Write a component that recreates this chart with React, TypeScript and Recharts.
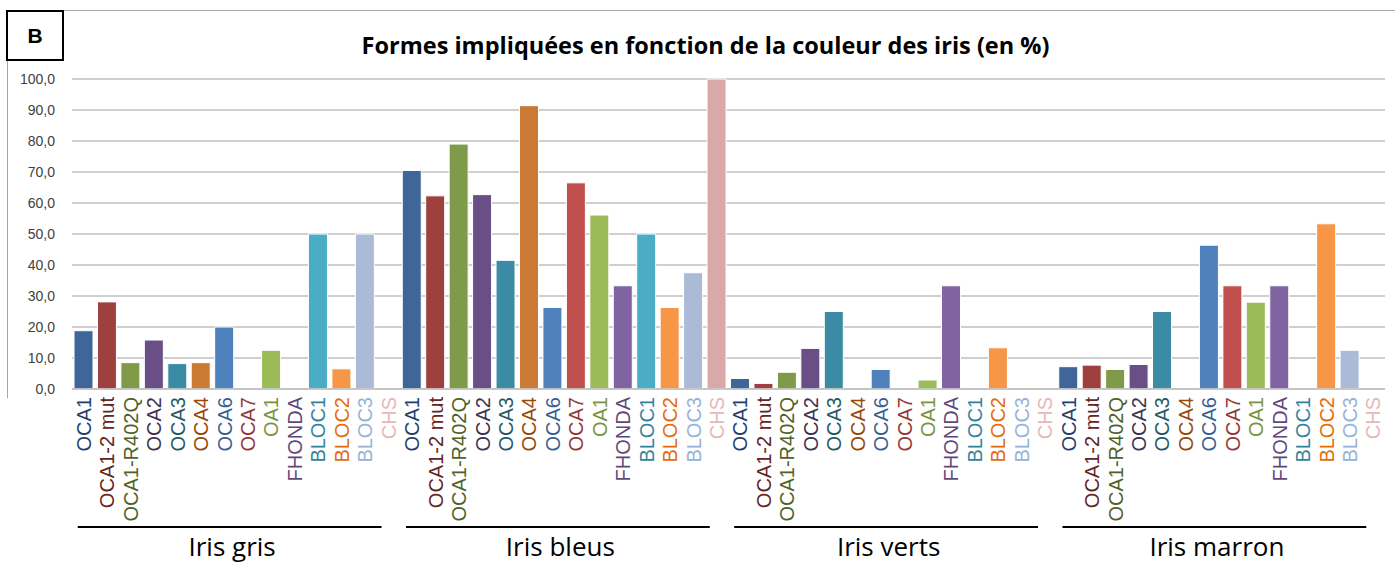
import { BarChart, Bar, XAxis, YAxis, CartesianGrid, Cell } from 'recharts';

// Forms (same order in every iris group)
const forms = [
  'OCA1', 'OCA1-2 mut', 'OCA1-R402Q', 'OCA2', 'OCA3', 'OCA4', 'OCA6',
  'OCA7', 'OA1', 'FHONDA', 'BLOC1', 'BLOC2', 'BLOC3', 'CHS',
];
const groups = ['Iris gris', 'Iris bleus', 'Iris verts', 'Iris marron'];

const grisValues = [18.8, 28.1, 8.5, 15.8, 8.2, 8.5, 20.0, 0, 12.5, 0, 50.0, 6.5, 50.0, 0];
const bleusValues = [70.5, 62.3, 79.0, 62.7, 41.5, 91.4, 26.3, 66.5, 56.1, 33.3, 50.0, 26.3, 37.5, 100.0];
const vertsValues = [3.4, 1.8, 5.4, 13.1, 25.0, 0, 6.3, 0, 2.9, 33.3, 0, 13.3, 0, 0];
const marronValues = [7.2, 7.7, 6.3, 7.9, 25.0, 0, 46.4, 33.3, 28.0, 33.3, 0, 53.3, 12.5, 0];

const barColors = [
  '#3E6698', '#9E413E', '#7F9A48', '#6A4F86', '#3A8BA3', '#CB7A35', '#4F81BD',
  '#C0504D', '#9BBB59', '#8064A2', '#4BACC6', '#F79646', '#AABAD7', '#D9A9A9',
];
const labelColors = [
  '#1F3F6E', '#632523', '#4F6228', '#403152', '#215967', '#984807', '#366092',
  '#953735', '#77933C', '#5F497A', '#31849B', '#E46C0A', '#95B3D7', '#E6B9B8',
];

const yTicks = [0, 10, 20, 30, 40, 50, 60, 70, 80, 90, 100];

const allValues = [grisValues, bleusValues, vertsValues, marronValues];

const data = groups.flatMap((g, gi) =>
  forms.map((f, fi) => ({
    id: `${gi}-${fi}`,
    group: g,
    form: f,
    formIndex: fi,
    value: allValues[gi][fi],
  }))
);

const WIDTH = 1395;
const HEIGHT = 566;
const X_AXIS_H = 177;
const MARGIN = { top: 79, right: 10, bottom: 0, left: 12 };
const Y_AXIS_W = 60;
const slot = (WIDTH - MARGIN.left - Y_AXIS_W - MARGIN.right) / data.length;

const FormTick = ({ x, y, payload, index }: any) => {
  const row = data[index] ?? data.find((d) => d.id === payload.value);
  if (!row) return null;
  const fi = row.formIndex;
  const span = (forms.length - 1) * slot;
  return (
    <g>
      <text
        transform={`translate(${x},${y + 6}) rotate(-90)`}
        textAnchor="end"
        dy="0.36em"
        fontFamily="'Liberation Sans', Arial, sans-serif"
        fontSize={20}
        fill={labelColors[fi]}
      >
        {row.form}
      </text>
      {fi === 0 && (
        <g>
          <line x1={x - 6} x2={x + span - 7} y1={527} y2={527} stroke="#000" strokeWidth={2} />
          <text
            x={x + span / 2 - 4}
            y={556}
            textAnchor="middle"
            fontFamily="'Open Sans', sans-serif"
            fontSize={26}
            fill="#000"
          >
            {row.group}
          </text>
        </g>
      )}
    </g>
  );
};

export default function App() {
  return (
    <div style={{ position: 'relative', width: WIDTH, height: HEIGHT, background: '#fff' }}>
      <style>{`body{margin:0}`}</style>
      <BarChart width={WIDTH} height={HEIGHT} data={data} margin={MARGIN} barSize={19}>
        <CartesianGrid vertical={false} stroke="#BFBFBF" strokeWidth={1.5} />
        <XAxis
          dataKey="id"
          interval={0}
          tick={<FormTick />}
          tickLine={false}
          tickSize={0}
          axisLine={{ stroke: '#BFBFBF', strokeWidth: 1.5 }}
          height={X_AXIS_H}
        />
        <YAxis
          width={Y_AXIS_W}
          domain={[0, 100]}
          ticks={yTicks}
          interval={0}
          tickFormatter={(v: number) => v.toFixed(1).replace('.', ',')}
          axisLine={false}
          tickLine={false}
          tickSize={0}
          tickMargin={17}
          tick={{ fontSize: 14, fill: '#404040', fontFamily: "'Liberation Sans', Arial, sans-serif" }}
        />
        <Bar dataKey="value" isAnimationActive={false} stroke="#fff" strokeWidth={1}>
          {data.map((d) => (
            <Cell key={d.id} fill={barColors[d.formIndex]} />
          ))}
        </Bar>
      </BarChart>

      {/* frame lines of the original chart area */}
      <div style={{ position: 'absolute', left: 64, top: 10, width: WIDTH - 64, height: 1, background: '#A6A6A6' }} />
      <div style={{ position: 'absolute', left: 7, top: 60, width: 1, height: 338, background: '#A6A6A6' }} />

      {/* panel letter */}
      <div
        style={{
          position: 'absolute',
          left: 6,
          top: 10,
          width: 54,
          height: 47,
          border: '2px solid #000',
          display: 'flex',
          alignItems: 'center',
          justifyContent: 'center',
          fontFamily: "'Liberation Sans', Arial, sans-serif",
          fontWeight: 700,
          fontSize: 21,
        }}
      >
        B
      </div>

      <div
        style={{
          position: 'absolute',
          left: 0,
          top: 27,
          width: WIDTH,
          textAlign: 'center',
          fontFamily: "'Open Sans', sans-serif",
          fontWeight: 700,
          fontSize: 23.5,
          lineHeight: '36px',
          color: '#000',
          paddingLeft: 8,
        }}
      >
        Formes impliquées en fonction de la couleur des iris (en %)
      </div>
    </div>
  );
}
